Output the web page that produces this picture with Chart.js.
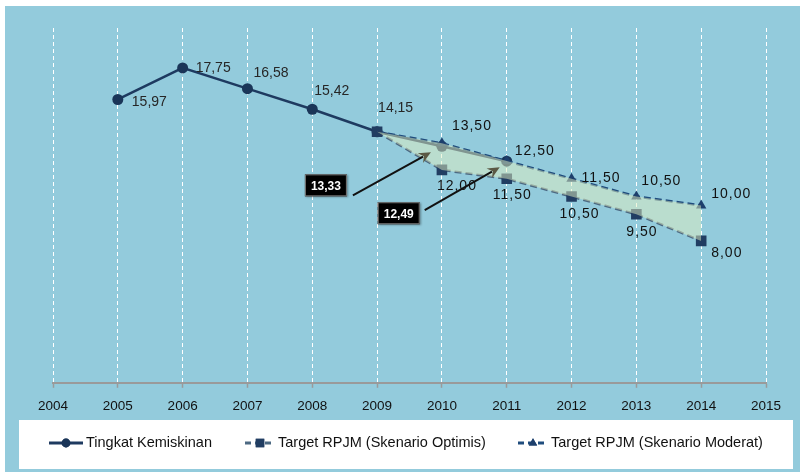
<!DOCTYPE html>
<html>
<head>
<meta charset="utf-8">
<script src="https://cdn.jsdelivr.net/npm/chart.js@4.4.0/dist/chart.umd.min.js"></script>
<style>
  html, body { margin: 0; padding: 0; background: #fff; }
  #wrap { width: 800px; height: 472px; }
</style>
</head>
<body>
<div id="wrap"><canvas id="c"></canvas></div>
<script>
// --- data ---
const years = ["2004", "2005", "2006", "2007", "2008", "2009", "2010", "2011", "2012", "2013", "2014", "2015"];
const tingkat = [null, 15.97, 17.75, 16.58, 15.42, 14.15, 13.33, 12.49, null, null, null, null];
const optimis = [null, null, null, null, null, 14.15, 12.0, 11.5, 10.5, 9.5, 8.0, null];
const moderat = [null, null, null, null, null, 14.15, 13.5, 12.5, 11.5, 10.5, 10.0, null];
const seriesNames = ["Tingkat Kemiskinan", "Target RPJM (Skenario Optimis)", "Target RPJM (Skenario Moderat)"];

const fmt = (v) => v.toFixed(2).replace(".", ",");

// background + legend box
const bgPlugin = {
  id: "bg",
  beforeDraw(chart) {
    const ctx = chart.ctx;
    ctx.save();
    ctx.fillStyle = "#ffffff";
    ctx.fillRect(0, 0, chart.width, chart.height);
    ctx.fillStyle = "#93cbdc";
    ctx.fillRect(5, 6, chart.width - 5, chart.height - 6);
    ctx.fillStyle = "#ffffff";
    ctx.fillRect(19, 420, 774, 49);
    ctx.restore();
  },
};

// value labels next to points
const labelPlugin = {
  id: "valueLabels",
  afterDatasetsDraw(chart, args, opts) {
    const ctx = chart.ctx;
    ctx.save();
    ctx.textBaseline = "middle";
    ctx.textAlign = "left";
    opts.sets.forEach((s) => {
      const meta = chart.getDatasetMeta(s.dataset);
      const data = chart.data.datasets[s.dataset].data;
      ctx.font = s.font;
      ctx.fillStyle = s.color;
      ctx.letterSpacing = s.spacing || "0px";
      meta.data.forEach((pt, i) => {
        const off = s.offsets[i];
        if (data[i] == null || !off) return;
        ctx.fillText(fmt(data[i]), pt.x + off[0], pt.y + off[1]);
      });
    });
    ctx.letterSpacing = "0px";

    // black callout boxes with arrows
    opts.callouts.forEach((c) => {
      const pt = chart.getDatasetMeta(0).data[c.index];
      const val = chart.data.datasets[0].data[c.index];
      const fx = pt.x + c.from[0], fy = pt.y + c.from[1];
      const tx = pt.x + c.to[0], ty = pt.y + c.to[1];
      const ang = Math.atan2(ty - fy, tx - fx);
      const hl = 12, hw = 5.5;
      const bx = tx - Math.cos(ang) * hl, by = ty - Math.sin(ang) * hl;
      ctx.strokeStyle = "#111";
      ctx.lineWidth = 2;
      ctx.beginPath();
      ctx.moveTo(fx, fy);
      ctx.lineTo(bx + Math.cos(ang) * 3, by + Math.sin(ang) * 3);
      ctx.stroke();
      ctx.fillStyle = "#5b5944";
      ctx.beginPath();
      ctx.moveTo(tx, ty);
      ctx.lineTo(bx + Math.sin(ang) * hw, by - Math.cos(ang) * hw);
      ctx.lineTo(bx + Math.cos(ang) * 4, by + Math.sin(ang) * 4);
      ctx.lineTo(bx - Math.sin(ang) * hw, by + Math.cos(ang) * hw);
      ctx.closePath();
      ctx.fill();

      const cx = pt.x + c.box[0], cy = pt.y + c.box[1];
      ctx.shadowColor = "rgba(0,0,0,0.35)";
      ctx.shadowOffsetX = 1;
      ctx.shadowOffsetY = 1;
      ctx.shadowBlur = 2;
      ctx.fillStyle = "#000";
      ctx.fillRect(cx - 21, cy - 11, 42, 22);
      ctx.shadowColor = "transparent";
      ctx.strokeStyle = "#7a7a7a";
      ctx.lineWidth = 1;
      ctx.strokeRect(cx - 20.5, cy - 10.5, 41, 21);
      ctx.fillStyle = "#fff";
      ctx.font = "bold 12px 'Liberation Sans', Arial, sans-serif";
      ctx.textAlign = "center";
      ctx.fillText(fmt(val), cx, cy + 1);
      ctx.textAlign = "left";
    });
    ctx.restore();
  },
};

// legend drawn from the datasets
const legendPlugin = {
  id: "customLegend",
  afterDraw(chart, args, opts) {
    const ctx = chart.ctx;
    const y = opts.y;
    ctx.save();
    opts.items.forEach((it, k) => {
      const ds = chart.data.datasets[k];
      ctx.strokeStyle = ds.borderColor;
      ctx.lineWidth = 3;
      ctx.setLineDash(ds.borderDash ? [6, 4] : []);
      ctx.beginPath();
      ctx.moveTo(it.x, y);
      ctx.lineTo(it.x + it.w, y);
      ctx.stroke();
      ctx.setLineDash([]);
      ctx.fillStyle = ds.pointBackgroundColor;
      Chart.helpers.drawPoint(ctx, {
        pointStyle: ds.pointStyle,
        radius: ds.pointRadius * 0.8,
        rotation: 0,
        borderWidth: 0,
      }, it.x + it.w / 2, y);
      ctx.fill();
      ctx.fillStyle = "#111";
      ctx.font = "14.5px 'Liberation Sans', Arial, sans-serif";
      ctx.textBaseline = "middle";
      ctx.fillText(ds.label, it.x + it.w + 3, y);
    });
    ctx.restore();
  },
};

new Chart(document.getElementById("c"), {
  type: "line",
  data: {
    labels: years,
    datasets: [
      {
        label: seriesNames[0],
        data: tingkat,
        borderColor: "#1e3a60",
        borderWidth: 2.5,
        pointStyle: "circle",
        pointRadius: 5.5,
        pointBackgroundColor: "#1a3558",
        pointBorderWidth: 0,
        order: 2,
      },
      {
        label: seriesNames[1],
        data: optimis,
        borderColor: "#4c6982",
        borderWidth: 2.5,
        borderDash: [7, 4],
        pointStyle: "rect",
        pointRadius: 7.5,
        pointBackgroundColor: "#213d62",
        pointBorderWidth: 0,
        order: 0,
      },
      {
        label: seriesNames[2],
        data: moderat,
        borderColor: "#1f4c7d",
        borderWidth: 2.5,
        borderDash: [7, 4],
        pointStyle: "triangle",
        pointRadius: 6,
        pointBackgroundColor: "#1d3f6c",
        pointBorderWidth: 0,
        order: 1,
      },
      {
        // shaded band between the two targets, drawn on top
        label: "",
        data: optimis,
        borderWidth: 0,
        pointRadius: 0,
        fill: { target: 2 },
        backgroundColor: "rgba(226, 240, 192, 0.5)",
        order: -1,
      },
    ],
  },
  options: {
    responsive: true,
    maintainAspectRatio: false,
    animation: false,
    layout: { padding: { left: 53, right: 34, top: 28, bottom: 48 } },
    plugins: {
      legend: { display: false },
      tooltip: { enabled: false },
      valueLabels: {
        sets: [
          {
            dataset: 0,
            font: "14px 'Liberation Sans', Arial, sans-serif",
            color: "#262626",
            offsets: [null, [14, 3], [13, 0], [6, -16], [2, -18], [1, -24], null, null],
          },
          {
            dataset: 2,
            font: "14px 'Liberation Sans', Arial, sans-serif",
            color: "#111",
            spacing: "1px",
            offsets: [null, null, null, null, null, null, [10, -17], [8, -10], [10, -1], [5, -15], [10, -11]],
          },
          {
            dataset: 1,
            font: "14px 'Liberation Sans', Arial, sans-serif",
            color: "#111",
            spacing: "1px",
            offsets: [null, null, null, null, null, null, [-5, 16], [-14, 16], [-12, 18], [-10, 18], [10, 12]],
          },
        ],
        callouts: [
          { index: 6, box: [-116, 39], from: [-89, 49], to: [-11, 6] },
          { index: 7, box: [-108, 52], from: [-82, 49], to: [-7, 6] },
        ],
      },
      customLegend: {
        y: 443,
        items: [
          { x: 49, w: 34 },
          { x: 245, w: 30 },
          { x: 518, w: 30 },
        ],
      },
    },
    scales: {
      x: {
        type: "category",
        offset: false,
        grid: {
          color: "#ffffff",
          lineWidth: 1,
          tickColor: "#9a9a9a",
          tickLength: 5,
          tickWidth: 1.5,
          tickBorderDash: [],
        },
        border: { display: true, color: "#9a9a9a", width: 2, dash: [4, 3] },
        ticks: {
          color: "#111",
          font: { family: "'Liberation Sans', Arial, sans-serif", size: 13.5 },
          padding: 10,
          autoSkip: false,
          maxRotation: 0,
        },
      },
      y: { display: false, min: 0, max: 20 },
    },
  },
  plugins: [bgPlugin, labelPlugin, legendPlugin],
});
</script>
</body>
</html>
